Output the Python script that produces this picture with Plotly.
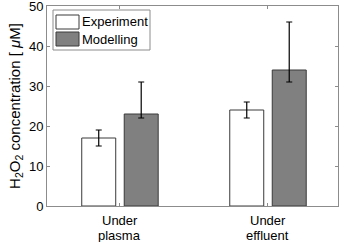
import plotly.graph_objects as go

categories = ["Under<br>plasma", "Under<br>effluent"]
series_names = ["Experiment", "Modelling"]
experiment = [17, 24]
experiment_err_plus = [2, 2]
experiment_err_minus = [2, 2]
modelling = [23, 34]
modelling_err_plus = [8, 12]
modelling_err_minus = [1, 3]
y_ticks = [0, 10, 20, 30, 40, 50]

x = list(range(len(categories)))
font = "Liberation Sans, Arial, sans-serif"
axc = "#8c8c8c"
edge = "#3a3a3a"
fills = ["white", "#808080"]

# plot-area pixel geometry (for layout-only helpers)
L, R, T, B = 47, 338, 6, 206
def xp(px):
    return (px - L) / (R - L)
def yp(py):
    return (B - py) / (B - T)

fig = go.Figure()
fig.add_trace(go.Bar(
    x=x, y=experiment, name=series_names[0],
    marker=dict(color=fills[0], line=dict(color=edge, width=1)),
    error_y=dict(type="data", symmetric=False, array=experiment_err_plus,
                 arrayminus=experiment_err_minus, color="black", thickness=1.2, width=3),
))
fig.add_trace(go.Bar(
    x=x, y=modelling, name=series_names[1],
    marker=dict(color=fills[1], line=dict(color=edge, width=1)),
    error_y=dict(type="data", symmetric=False, array=modelling_err_plus,
                 arrayminus=modelling_err_minus, color="black", thickness=1.2, width=3),
))

shapes = []
annotations = []
# legend box
shapes.append(dict(type="rect", xref="paper", yref="paper",
                   x0=xp(53), x1=xp(150), y0=yp(50), y1=yp(10),
                   line=dict(color=axc, width=1), fillcolor="white", layer="above"))
sw_y = [(15, 29), (32, 46)]
for name, fc, (ya, yb) in zip(series_names, fills, sw_y):
    shapes.append(dict(type="rect", xref="paper", yref="paper",
                       x0=xp(56), x1=xp(79), y0=yp(yb), y1=yp(ya),
                       line=dict(color=edge, width=1), fillcolor=fc, layer="above"))
    annotations.append(dict(text=name, xref="paper", yref="paper",
                            x=xp(80), y=yp((ya + yb) / 2), xanchor="left", yanchor="middle",
                            showarrow=False, font=dict(size=13, color="black")))
# category labels (two lines, tight spacing)
for xi, cat in zip(x, categories):
    for k, line in enumerate(cat.split("<br>")):
        annotations.append(dict(text=line, xref="x", yref="paper", x=xi, y=0,
                                xanchor="center", yanchor="middle", yshift=-14 - 15 * k,
                                showarrow=False, font=dict(size=13, color="black")))

fig.update_layout(
    width=342, height=242,
    margin=dict(l=L, r=342 - R, t=T, b=242 - B),
    paper_bgcolor="white", plot_bgcolor="white",
    barmode="group", bargap=0.426, bargroupgap=0.2,
    font=dict(family=font, size=13, color="black"),
    showlegend=False,
    shapes=shapes, annotations=annotations,
)
fig.update_xaxes(
    range=[-0.493, 1.473], tickmode="array", tickvals=x, showticklabels=False,
    showline=True, linecolor=axc, linewidth=1, mirror="ticks",
    ticks="inside", ticklen=3, tickcolor=axc, showgrid=False, zeroline=False,
    automargin=False,
)
fig.update_yaxes(
    range=[0, 50], tickmode="array", tickvals=y_ticks,
    showline=True, linecolor=axc, linewidth=1, mirror="ticks",
    ticks="inside", ticklen=3, tickcolor=axc, showgrid=False, zeroline=False,
    tickfont=dict(size=13), automargin=False, ticklabeloverflow="allow",
    title=dict(text="H<sub>2</sub>O<sub>2</sub> concentration [ <i>μ</i>M]",
               font=dict(size=15), standoff=4),
)

fig.write_html("out.html", config={"displayModeBar": False},
               post_script="document.body.style.margin='0';document.body.style.padding='0';")
